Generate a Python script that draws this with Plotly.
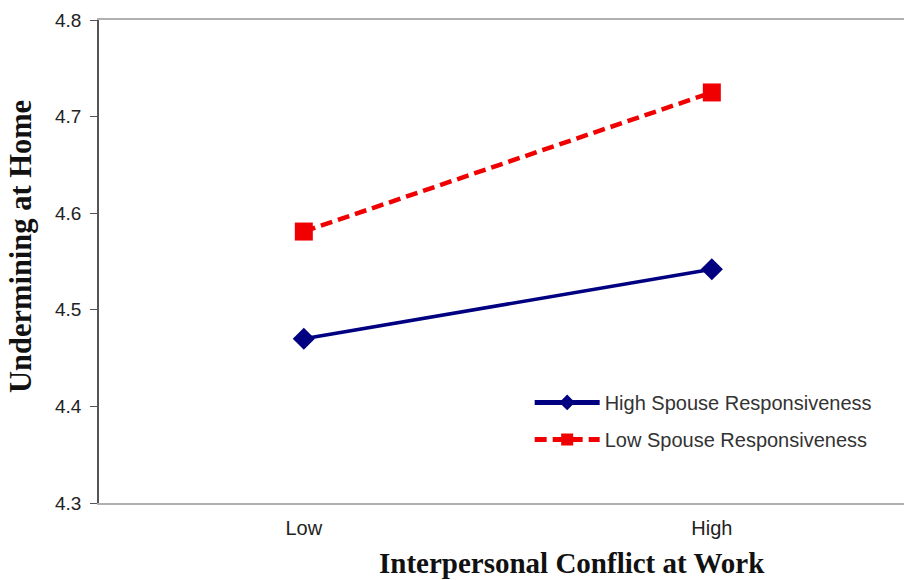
import plotly.graph_objects as go

categories = ["Low", "High"]
x_pos = [0, 1]
high_resp = [4.470, 4.542]
low_resp = [4.581, 4.725]
y_ticks = [4.3, 4.4, 4.5, 4.6, 4.7, 4.8]

fig = go.Figure()
fig.add_trace(go.Scatter(
    x=x_pos, y=high_resp, mode="lines+markers", name="High Spouse Responsiveness",
    line=dict(color="#000080", width=3.5),
    marker=dict(symbol="diamond", size=17, color="#000080"),
    legendgroup="a",
))
fig.add_trace(go.Scatter(
    x=x_pos, y=low_resp, mode="lines+markers", name="Low Spouse Responsiveness",
    line=dict(color="#F00000", width=4.5, dash="12px,6px"),
    marker=dict(symbol="square", size=18, color="#F00000"),
    legendgroup="b",
))

fig.update_layout(
    width=904, height=580,
    margin=dict(l=99, r=0, t=20, b=77),
    paper_bgcolor="white", plot_bgcolor="white",
    font=dict(family="Liberation Sans, Arial", size=19, color="#222"),
    showlegend=True,
    legend=dict(
        x=0.535, y=0.17, xanchor="left", yanchor="middle",
        font=dict(family="Liberation Sans, Arial", size=20, color="#333"),
        itemwidth=65, tracegroupgap=8, traceorder="grouped",
        itemsizing="constant",
        bgcolor="rgba(0,0,0,0)",
    ),
    xaxis=dict(
        range=[-0.502, 1.471], tickvals=x_pos, ticktext=categories,
        showgrid=False, zeroline=False, showline=True, linecolor="#b0b0b0",
        linewidth=1.5, mirror=True, ticks="", ticklabelstandoff=6,
        tickfont=dict(size=20),
    ),
    yaxis=dict(
        range=[4.3, 4.8], tickvals=y_ticks, tickformat=".1f",
        showgrid=False, zeroline=False, showline=True, linecolor="#555",
        linewidth=1.5, ticks="outside", ticklen=7, tickcolor="#555",
        tickfont=dict(size=19), ticklabelstandoff=5,
    ),
    annotations=[
        dict(text="<b>Interpersonal Conflict at Work</b>", xref="paper", yref="paper",
             x=0.5876, y=0, yshift=-60, xanchor="center", yanchor="middle",
             showarrow=False,
             font=dict(family="Liberation Serif, Times New Roman", size=29, color="#111")),
        dict(text="<b>Undermining at Home</b>", xref="paper", yref="paper",
             x=0, xshift=-78, y=0.53, xanchor="center", yanchor="middle",
             textangle=-90, showarrow=False,
             font=dict(family="Liberation Serif, Times New Roman", size=30.5, color="#111")),
    ],
)

fig.write_html("out.html", config={"displayModeBar": False},
               post_script="document.body.style.margin='0';")
